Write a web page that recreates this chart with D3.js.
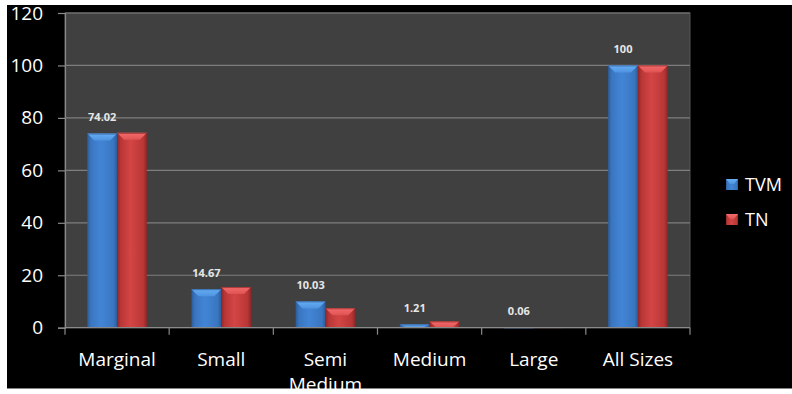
<!DOCTYPE html>
<html>
<head>
<meta charset="utf-8">
<script src="https://cdn.jsdelivr.net/npm/d3@7"></script>
<style>
  html, body { margin: 0; padding: 0; background: #fff; }
  svg { display: block; }
</style>
</head>
<body>
<svg id="chart" width="792" height="394"></svg>
<script>
// Share of holdings by size class
const categories = ["Marginal", "Small", "Semi Medium", "Medium", "Large", "All Sizes"];
const seriesNames = ["TVM", "TN"];
const tvmValues = [74.02, 14.67, 10.03, 1.21, 0.06, 100];
const tnValues = [74.3, 15.5, 7.4, 2.4, 0.2, 100];
const yTicks = [0, 20, 40, 60, 80, 100, 120];

const svg = d3.select("#chart");
const W = 792, H = 394;

// dark panel
svg.append("rect").attr("x", 7).attr("y", 5).attr("width", W - 7).attr("height", 383.7).attr("fill", "#000");

const plot = { left: 65, right: 690, top: 13, bottom: 327.7 };

const x = d3.scaleBand().domain(categories).range([plot.left, plot.right]).paddingInner(0).paddingOuter(0);
const inner = d3.scaleBand().domain(seriesNames).range([0, x.bandwidth()]).paddingOuter(0.75).paddingInner(0);
const y = d3.scaleLinear().domain([0, 120]).range([plot.bottom, plot.top]);

const colors = {
  TVM: { dark: "#2b5c9c", mid: "#4285d6", light: "#3a76c0", cap: "#68aef4", capEdge: "#4d93e0" },
  TN:  { dark: "#8e2727", mid: "#d44545", light: "#b93636", cap: "#f36c6c", capEdge: "#e05252" }
};

const defs = svg.append("defs");
seriesNames.forEach(s => {
  const c = colors[s];
  const g = defs.append("linearGradient").attr("id", "grad-" + s).attr("x1", "0").attr("x2", "1").attr("y1", "0").attr("y2", "0");
  g.append("stop").attr("offset", "0%").attr("stop-color", c.dark);
  g.append("stop").attr("offset", "12%").attr("stop-color", c.light);
  g.append("stop").attr("offset", "45%").attr("stop-color", c.mid);
  g.append("stop").attr("offset", "88%").attr("stop-color", c.light);
  g.append("stop").attr("offset", "100%").attr("stop-color", c.dark);
  const cg = defs.append("linearGradient").attr("id", "cap-" + s).attr("x1", "0").attr("x2", "0").attr("y1", "0").attr("y2", "1");
  cg.append("stop").attr("offset", "0%").attr("stop-color", c.cap);
  cg.append("stop").attr("offset", "100%").attr("stop-color", c.capEdge);
});

// plot background
svg.append("rect")
  .attr("x", plot.left).attr("y", plot.top)
  .attr("width", plot.right - plot.left).attr("height", plot.bottom - plot.top)
  .attr("fill", "#404040").attr("stroke", "#555").attr("stroke-width", 1);

// gridlines and y-axis
const yAxis = d3.axisLeft(y).tickValues(yTicks).tickSize(7).tickPadding(15).tickFormat(d3.format("d"));
const yg = svg.append("g").attr("transform", `translate(${plot.left},0)`).call(yAxis);
yg.select(".domain").attr("stroke", "#8a8a8a").attr("stroke-width", 1.2);
yg.selectAll(".tick line").attr("stroke", "#8a8a8a").attr("stroke-width", 1.2);
yg.selectAll(".tick text").attr("fill", "#fff").attr("font-family", "'Open Sans', sans-serif").attr("font-size", 19);

svg.append("g").selectAll("line").data(yTicks.filter(d => d > 0)).join("line")
  .attr("x1", plot.left).attr("x2", plot.right)
  .attr("y1", d => y(d)).attr("y2", d => y(d))
  .attr("stroke", "#7e7e7e").attr("stroke-width", 1.2);

// bars
const rows = categories.map((c, i) => ({ cat: c, values: [
  { s: "TVM", v: tvmValues[i] }, { s: "TN", v: tnValues[i] }
]}));

const groups = svg.append("g").selectAll("g").data(rows).join("g")
  .attr("transform", d => `translate(${x(d.cat)},0)`);

groups.each(function(row) {
  const g = d3.select(this);
  row.values.forEach(d => {
    const x0 = inner(d.s), bw = inner.bandwidth();
    const yt = y(d.v), h = plot.bottom - yt;
    if (h <= 0) return;
    g.append("rect")
      .attr("x", x0).attr("y", yt).attr("width", bw).attr("height", h)
      .attr("fill", `url(#grad-${d.s})`);
    const depth = Math.min(7, h);
    const inset = Math.min(7, bw / 2);
    g.append("polygon")
      .attr("points", [[x0, yt], [x0 + bw, yt], [x0 + bw - inset, yt + depth], [x0 + inset, yt + depth]].map(p => p.join(",")).join(" "))
      .attr("fill", `url(#cap-${d.s})`);
    g.append("line")
      .attr("x1", x0).attr("x2", x0 + bw).attr("y1", yt + 0.5).attr("y2", yt + 0.5)
      .attr("stroke", colors[d.s].dark).attr("stroke-width", 1).attr("opacity", 0.7);
  });
  // value label over the TVM bar
  const tv = row.values[0];
  g.append("text")
    .attr("x", inner("TVM") + inner.bandwidth() / 2)
    .attr("y", y(tv.v) - 12.5)
    .attr("text-anchor", "middle")
    .attr("fill", "#e6e6e6")
    .attr("font-family", "'Open Sans', sans-serif")
    .attr("font-weight", "bold")
    .attr("font-size", 11)
    .text(tv.v);
});

// x-axis with ticks at category boundaries
const bounds = categories.map(c => x(c)).concat([plot.right]);
svg.append("g").selectAll("line").data(bounds).join("line")
  .attr("x1", d => d).attr("x2", d => d)
  .attr("y1", plot.bottom).attr("y2", plot.bottom + 7)
  .attr("stroke", "#8a8a8a").attr("stroke-width", 1.2);
svg.append("line")
  .attr("x1", plot.left).attr("x2", plot.right)
  .attr("y1", plot.bottom).attr("y2", plot.bottom)
  .attr("stroke", "#8a8a8a").attr("stroke-width", 1.2);

// category labels, long names wrapped onto two lines
const labelLines = categories.flatMap(c => {
  const words = c === "Semi Medium" ? ["Semi", "Medium"] : [c];
  return words.map((w, i) => ({ cat: c, text: w, line: i }));
});
svg.append("g").selectAll("text").data(labelLines).join("text")
  .attr("x", d => x(d.cat) + x.bandwidth() / 2)
  .attr("y", d => 366 + d.line * 25)
  .attr("text-anchor", "middle")
  .attr("fill", "#fff")
  .attr("font-family", "'Open Sans', sans-serif")
  .attr("font-size", 19)
  .text(d => d.text);

// legend
const legend = svg.append("g").selectAll("g").data(seriesNames).join("g")
  .attr("transform", (d, i) => `translate(726,${179 + i * 35})`);
legend.append("rect").attr("width", 12).attr("height", 11).attr("fill", d => `url(#grad-${d})`);
legend.append("polygon").attr("points", "0,0 12,0 8,5 4,5").attr("fill", d => `url(#cap-${d})`);
legend.append("text")
  .attr("x", 19).attr("y", 11.5)
  .attr("fill", "#fff")
  .attr("font-family", "'Open Sans', sans-serif")
  .attr("font-size", 18)
  .text(d => d);

// white margin across the bottom edge
svg.append("rect").attr("x", 0).attr("y", 388.7).attr("width", W).attr("height", H - 388.7).attr("fill", "#fff");
</script>
</body>
</html>
